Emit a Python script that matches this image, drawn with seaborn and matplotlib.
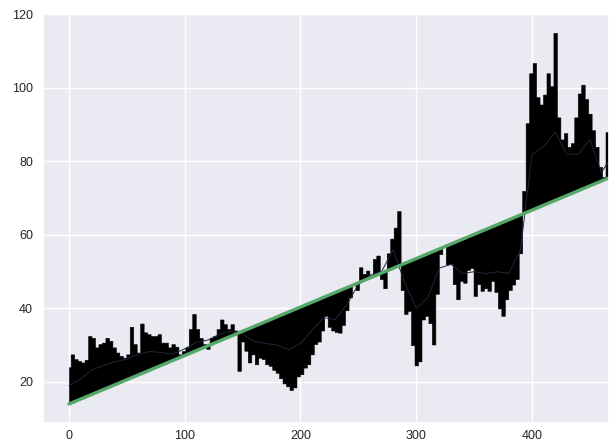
import numpy as np
import pandas as pd
import matplotlib
matplotlib.use("Agg")
import matplotlib.pyplot as plt
import seaborn as sns

# raw series, sampled every 3 steps (0 .. 468)
raw_values = [
    24.0, 27.5, 26.2, 25.7, 25.3, 26.0, 32.5, 32.0, 29.4, 30.3,
    30.7, 32.0, 31.2, 29.4, 28.0, 27.1, 26.6, 27.5, 35.0, 30.3,
    28.0, 35.9, 33.5, 33.0, 32.5, 32.5, 33.0, 30.7, 30.7, 29.4,
    30.3, 29.6, 27.5, 28.4, 29.4, 34.4, 38.5, 34.4, 32.0, 30.3,
    29.0, 32.0, 32.5, 34.4, 37.0, 35.7, 34.4, 35.7, 34.0, 23.0,
    31.0, 28.5, 25.3, 27.5, 24.8, 26.6, 26.2, 24.8, 24.4, 23.3,
    22.5, 21.0, 19.6, 18.8, 17.8, 18.5, 21.5, 22.1, 23.9, 24.8,
    27.5, 30.3, 31.0, 34.0, 38.0, 35.0, 34.0, 33.6, 33.4, 35.5,
    39.5, 43.0, 46.5, 45.0, 51.2, 49.4, 50.3, 49.0, 53.5, 54.4,
    48.0, 45.5, 55.0, 59.0, 62.0, 66.5, 45.0, 38.5, 39.3, 30.0,
    24.5, 25.6, 37.0, 38.0, 36.0, 30.2, 44.0, 54.8, 56.8, 52.0,
    52.1, 46.6, 42.5, 47.5, 47.0, 50.5, 51.0, 43.4, 46.6, 44.8,
    45.5, 44.8, 47.5, 44.5, 40.0, 38.0, 42.5, 45.0, 46.5, 48.0,
    55.0, 72.0, 90.4, 104.0, 106.8, 97.5, 95.5, 98.2, 104.0, 100.5,
    115.0, 92.0, 86.0, 87.7, 84.0, 85.0, 92.0, 98.5, 100.9, 97.0,
    93.0, 88.5, 84.0, 78.5, 75.8, 88.0, 96.4,
]
raw_x = np.arange(0, 3 * len(raw_values), 3)

# smoothed series, every 10 steps
smooth_values = [
    19.0, 20.8, 23.3, 24.5, 25.5, 26.2, 27.6, 28.3, 28.0, 27.6,
    29.0, 30.8, 31.4, 33.0, 33.8, 33.0, 31.0, 30.5, 30.0, 28.8,
    30.5, 34.0, 37.5, 37.0, 41.0, 46.5, 49.0, 50.0, 56.0, 47.0,
    40.0, 43.0, 51.0, 52.0, 49.5, 50.0, 49.5, 50.0, 49.5, 56.0,
    82.0, 84.0, 88.0, 82.0, 82.0, 86.0, 77.0, 82.0,
]
smooth_x = np.arange(0, 10 * len(smooth_values), 10)

# linear trend (endpoints)
trend_x = [0, 470]
trend_y = [14.0, 76.0]

sns.set_theme(style="darkgrid")
plt.rcParams['font.family'] = ['Liberation Sans', 'DejaVu Sans']

fig = plt.figure(figsize=(6.09, 4.46), dpi=100)
ax = fig.add_axes([0.0701, 0.0522, 0.9299, 0.9153])

# residual columns: each sample spans +-1.5 around its x, base on the trend
left = np.clip(raw_x - 1.5, 0, None)
right = raw_x + 1.5
xs = np.column_stack([left, right]).ravel()
vals = np.repeat(raw_values, 2)
base = np.interp(xs, trend_x, trend_y)
ax.fill_between(xs, base, vals, interpolate=True,
                color='black', edgecolor='black', linewidth=0.4)

smooth = pd.DataFrame({'x': smooth_x, 'y': smooth_values})
sns.lineplot(data=smooth, x='x', y='y', ax=ax, color='#1e2738', linewidth=0.7)

trend = pd.DataFrame({'x': trend_x, 'y': trend_y})
sns.lineplot(data=trend, x='x', y='y', ax=ax, color='#55A868', linewidth=2.4)

ax.set_xlim(-22.7, 466.5)
ax.set_ylim(8.9, 120)
ax.set_xticks([0, 100, 200, 300, 400])
ax.set_yticks([20, 40, 60, 80, 100, 120])
ax.set_xlabel("")
ax.set_ylabel("")
ax.tick_params(labelsize=9, colors='#262626', length=0)
ax.tick_params(axis='x', pad=5.5)
ax.tick_params(axis='y', pad=7)

fig.savefig("out.png", dpi=100)
